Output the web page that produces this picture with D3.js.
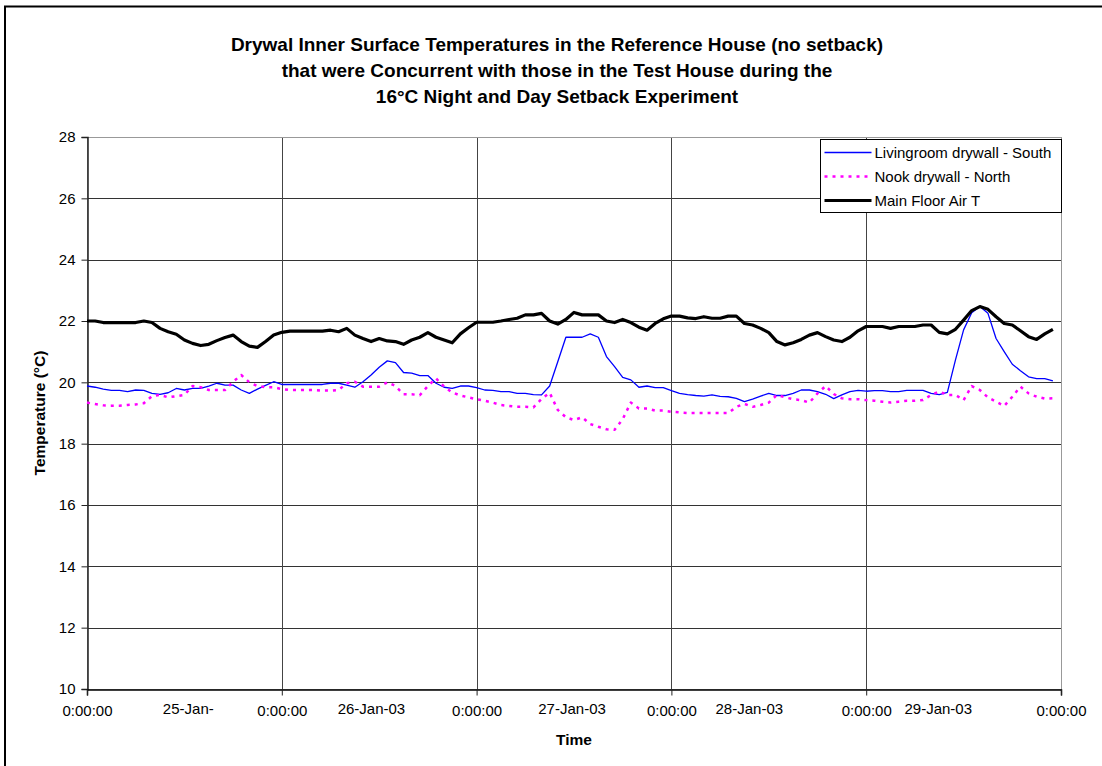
<!DOCTYPE html>
<meta charset="utf-8">
<head>
<style>
    body {margin: 0; background: #fff; font-family: "Liberation Sans", Arial, sans-serif;}
    svg text {font-family: "Liberation Sans", Arial, sans-serif;}
</style>
<script src="https://d3js.org/d3.v7.min.js"></script>
</head>
<body>
    <div id="chart"></div>
</body>
<script>

// hourly readings, 25-Jan-03 0:00 .. 29-Jan-03 23:00
var livingroom = [
    19.88, 19.84, 19.78, 19.74, 19.74, 19.70, 19.75, 19.74, 19.64, 19.61, 19.66, 19.80,
    19.75, 19.80, 19.80, 19.88, 19.97, 19.91, 19.91, 19.75, 19.64, 19.78, 19.90, 20.02,
    19.93, 19.93, 19.93, 19.93, 19.93, 19.93, 19.97, 19.97, 19.91, 19.84, 20.02, 20.24,
    20.49, 20.70, 20.64, 20.32, 20.30, 20.22, 20.22, 19.97, 19.84, 19.80, 19.88, 19.88,
    19.83, 19.75, 19.74, 19.70, 19.70, 19.64, 19.64, 19.60, 19.59, 19.88, 20.67, 21.47,
    21.47, 21.47, 21.58, 21.47, 20.84, 20.51, 20.16, 20.08, 19.84, 19.88, 19.83, 19.83,
    19.73, 19.64, 19.60, 19.57, 19.55, 19.59, 19.54, 19.53, 19.48, 19.37, 19.45, 19.55,
    19.64, 19.57, 19.57, 19.64, 19.75, 19.75, 19.70, 19.61, 19.47, 19.59, 19.70, 19.74,
    19.71, 19.73, 19.73, 19.70, 19.70, 19.74, 19.74, 19.74, 19.64, 19.60, 19.67, 20.73,
    21.71, 22.27, 22.47, 22.25, 21.43, 21.00, 20.59, 20.38, 20.18, 20.12, 20.12, 20.05
];
var nook = [
    19.34, 19.29, 19.25, 19.24, 19.24, 19.26, 19.28, 19.32, 19.55, 19.59, 19.51, 19.55,
    19.59, 19.88, 19.84, 19.75, 19.75, 19.75, 20.02, 20.24, 20.00, 19.88, 19.84, 19.84,
    19.78, 19.75, 19.75, 19.75, 19.75, 19.73, 19.73, 19.75, 19.97, 20.02, 19.86, 19.86,
    19.86, 20.00, 19.88, 19.61, 19.61, 19.58, 19.88, 20.13, 19.86, 19.67, 19.57, 19.51,
    19.45, 19.40, 19.34, 19.26, 19.23, 19.20, 19.20, 19.18, 19.46, 19.66, 19.10, 18.86,
    18.77, 18.86, 18.64, 18.55, 18.47, 18.45, 18.80, 19.34, 19.15, 19.15, 19.08, 19.08,
    19.04, 19.02, 19.00, 19.00, 19.00, 19.00, 19.00, 19.00, 19.20, 19.30, 19.20, 19.26,
    19.34, 19.59, 19.51, 19.45, 19.42, 19.34, 19.64, 19.88, 19.62, 19.48, 19.45, 19.45,
    19.42, 19.40, 19.37, 19.34, 19.37, 19.40, 19.40, 19.42, 19.59, 19.70, 19.59, 19.59,
    19.42, 19.88, 19.75, 19.51, 19.37, 19.23, 19.53, 19.86, 19.64, 19.53, 19.47, 19.48
];
var mainFloorAir = [
    22.00, 22.00, 21.95, 21.95, 21.95, 21.95, 21.95, 22.00, 21.95, 21.76, 21.65, 21.57,
    21.38, 21.27, 21.20, 21.24, 21.36, 21.46, 21.54, 21.33, 21.18, 21.14, 21.33, 21.54,
    21.63, 21.67, 21.67, 21.67, 21.67, 21.67, 21.70, 21.65, 21.76, 21.54, 21.43, 21.33,
    21.43, 21.35, 21.33, 21.24, 21.38, 21.47, 21.62, 21.47, 21.38, 21.29, 21.58, 21.78,
    21.96, 21.96, 21.96, 22.00, 22.05, 22.09, 22.20, 22.20, 22.25, 22.00, 21.90, 22.05,
    22.28, 22.20, 22.20, 22.20, 22.00, 21.95, 22.05, 21.95, 21.80, 21.70, 21.92, 22.07,
    22.16, 22.16, 22.10, 22.08, 22.14, 22.09, 22.09, 22.16, 22.16, 21.92, 21.87, 21.76,
    21.62, 21.33, 21.22, 21.29, 21.40, 21.54, 21.62, 21.49, 21.38, 21.33, 21.47, 21.68,
    21.82, 21.82, 21.82, 21.76, 21.82, 21.82, 21.82, 21.87, 21.87, 21.63, 21.58, 21.73,
    22.03, 22.34, 22.47, 22.38, 22.14, 21.92, 21.87, 21.68, 21.49, 21.40, 21.58, 21.73
];

var seriesNames = ["Livingroom drywall - South", "Nook drywall - North", "Main Floor Air T"];
var titleLines = [
    "Drywal Inner Surface Temperatures in the Reference House (no setback)",
    "that were Concurrent with those in the Test House during the",
    "16\u00B0C Night and Day Setback Experiment"
];
var yTicks = [10, 12, 14, 16, 18, 20, 22, 24, 26, 28];
// midnight ticks and the date labels Excel placed between them (day offsets)
var midnightTicks = [0, 1, 2, 3, 4, 5];
var dateLabels = ["25-Jan-", "26-Jan-03", "27-Jan-03", "28-Jan-03", "29-Jan-03"];
var dateLabelDays = [0.52, 1.46, 2.49, 3.40, 4.37];

var width = 1102, height = 766;
var plotLeft = 87, plotRight = 1061, plotTop = 137, plotBottom = 689;
var tickFont = "15px";

var start = Date.UTC(2003, 0, 25);
var hourMs = 3600 * 1000, dayMs = 24 * hourMs;

var svg = d3.select("#chart").append("svg")
    .attr("width", width)
    .attr("height", height);

svg.append("rect")
    .attr("x", 5).attr("y", 6.5)
    .attr("width", 1200).attr("height", 900)
    .style("fill", "none").style("stroke", "#000").style("stroke-width", 2);

var x = d3.scaleTime()
    .domain([new Date(start), new Date(start + 5 * dayMs)])
    .range([plotLeft, plotRight]);
var y = d3.scaleLinear().domain([10, 28]).range([plotBottom, plotTop]);

// title
svg.append("g").selectAll("text")
    .data(titleLines)
    .enter().append("text")
    .attr("x", 557)
    .attr("y", function(d, i) { return 51 + i * 26; })
    .style("text-anchor", "middle")
    .style("font-weight", "bold")
    .style("font-size", "19px")
    .text(function(d) { return d; });

// grid
var grid = svg.append("g");
grid.selectAll("line.h")
    .data(yTicks.slice(1, -1))
    .enter().append("line")
    .attr("x1", plotLeft).attr("x2", plotRight)
    .attr("y1", function(d) { return Math.round(y(d)) + 0.5; })
    .attr("y2", function(d) { return Math.round(y(d)) + 0.5; })
    .style("stroke", "#333").style("stroke-width", 1);
grid.selectAll("line.v")
    .data(midnightTicks.slice(1, -1))
    .enter().append("line")
    .attr("x1", function(d) { return Math.round(x(new Date(start + d * dayMs))) + 0.5; })
    .attr("x2", function(d) { return Math.round(x(new Date(start + d * dayMs))) + 0.5; })
    .attr("y1", plotTop).attr("y2", plotBottom)
    .style("stroke", "#444").style("stroke-width", 1);

// plot frame (gray) then axes (black)
svg.append("rect")
    .attr("x", plotLeft + 0.5).attr("y", Math.round(plotTop) + 0.5)
    .attr("width", plotRight - plotLeft).attr("height", plotBottom - plotTop)
    .style("fill", "none").style("stroke", "#999");

var yAxis = svg.append("g")
    .attr("transform", "translate(" + (plotLeft + 0.5) + ",0)")
    .call(d3.axisLeft(y).tickValues(yTicks).tickSize(6).tickPadding(6).tickFormat(d3.format("d")));
yAxis.select(".domain").style("stroke", "#222").style("stroke-width", 1.5);
yAxis.selectAll(".tick line").style("stroke", "#222");
yAxis.selectAll("text").style("font-size", tickFont).style("fill", "#000");

var xAxis = svg.append("g")
    .attr("transform", "translate(0," + (plotBottom + 0.5) + ")")
    .call(d3.axisBottom(x)
        .tickValues(midnightTicks.map(function(d) { return new Date(start + d * dayMs); }))
        .tickSize(6).tickPadding(10)
        .tickFormat(function() { return "0:00:00"; }));
xAxis.select(".domain").style("stroke", "#000").style("stroke-width", 1.5);
xAxis.selectAll(".tick line").style("stroke", "#222");
xAxis.selectAll("text").style("font-size", tickFont).style("fill", "#000");

svg.append("g").selectAll("text")
    .data(dateLabels)
    .enter().append("text")
    .attr("x", function(d, i) { return x(new Date(start + dateLabelDays[i] * dayMs)); })
    .attr("y", 714)
    .style("text-anchor", "middle")
    .style("font-size", tickFont)
    .text(function(d) { return d; });

// axis titles
svg.append("text")
    .attr("x", 574).attr("y", 745)
    .style("text-anchor", "middle")
    .style("font-weight", "bold").style("font-size", "15.5px")
    .text("Time");
svg.append("text")
    .attr("transform", "translate(45,413) rotate(-90)")
    .style("text-anchor", "middle")
    .style("font-weight", "bold").style("font-size", "15.5px")
    .text("Temperature (\u00B0C)");

// series
var line = d3.line()
    .x(function(d, i) { return x(new Date(start + i * hourMs)); })
    .y(function(d) { return y(d); });

var styles = [
    {color: "#0000ff", width: 1.3, dash: null},
    {color: "#ff00ff", width: 2.5, dash: "3,5"},
    {color: "#000000", width: 3.2, dash: null}
];
var allSeries = [livingroom, nook, mainFloorAir];

svg.append("g").selectAll("path")
    .data(allSeries)
    .enter().append("path")
    .attr("d", line)
    .style("fill", "none")
    .style("stroke", function(d, i) { return styles[i].color; })
    .style("stroke-width", function(d, i) { return styles[i].width; })
    .style("stroke-dasharray", function(d, i) { return styles[i].dash; })
    .style("stroke-linejoin", "round");

// legend
var legend = svg.append("g").attr("transform", "translate(820.5,139.5)");
legend.append("rect")
    .attr("width", 241).attr("height", 73)
    .style("fill", "#fff").style("stroke", "#000");
var item = legend.selectAll("g.item")
    .data(seriesNames)
    .enter().append("g")
    .attr("transform", function(d, i) { return "translate(0," + (13 + i * 24) + ")"; });
item.append("line")
    .attr("x1", 4).attr("x2", 51)
    .style("stroke", function(d, i) { return styles[i].color; })
    .style("stroke-width", function(d, i) { return styles[i].width; })
    .style("stroke-dasharray", function(d, i) { return styles[i].dash; });
item.append("text")
    .attr("x", 54).attr("y", 5.5)
    .style("font-size", "15px")
    .text(function(d) { return d; });

</script>
